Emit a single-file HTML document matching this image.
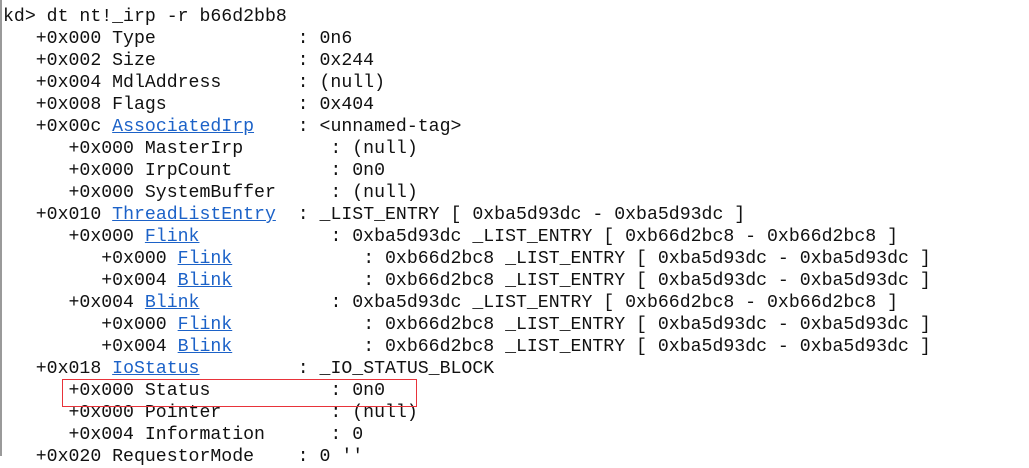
<!DOCTYPE html>
<html><head><meta charset="utf-8"><style>
html,body{margin:0;padding:0;background:#fff;width:1029px;height:456px;overflow:hidden}
.bar{position:absolute;left:0;top:0;width:2px;height:456px;background:#9a9a9a}
pre{position:absolute;left:3px;top:6px;margin:0;font-family:"Liberation Mono",monospace;font-size:18.2px;line-height:22px;color:#111}
a{color:#1c62c8;text-decoration:underline}
.box{position:absolute;left:62px;top:379px;width:353px;height:26px;border:1px solid #e8333a}
</style></head><body>
<div class="bar"></div>
<pre>kd&gt; dt nt!_irp -r b66d2bb8
   +0x000 Type             : 0n6
   +0x002 Size             : 0x244
   +0x004 MdlAddress       : (null)
   +0x008 Flags            : 0x404
   +0x00c <a>AssociatedIrp</a>    : &lt;unnamed-tag&gt;
      +0x000 MasterIrp        : (null)
      +0x000 IrpCount         : 0n0
      +0x000 SystemBuffer     : (null)
   +0x010 <a>ThreadListEntry</a>  : _LIST_ENTRY [ 0xba5d93dc - 0xba5d93dc ]
      +0x000 <a>Flink</a>            : 0xba5d93dc _LIST_ENTRY [ 0xb66d2bc8 - 0xb66d2bc8 ]
         +0x000 <a>Flink</a>            : 0xb66d2bc8 _LIST_ENTRY [ 0xba5d93dc - 0xba5d93dc ]
         +0x004 <a>Blink</a>            : 0xb66d2bc8 _LIST_ENTRY [ 0xba5d93dc - 0xba5d93dc ]
      +0x004 <a>Blink</a>            : 0xba5d93dc _LIST_ENTRY [ 0xb66d2bc8 - 0xb66d2bc8 ]
         +0x000 <a>Flink</a>            : 0xb66d2bc8 _LIST_ENTRY [ 0xba5d93dc - 0xba5d93dc ]
         +0x004 <a>Blink</a>            : 0xb66d2bc8 _LIST_ENTRY [ 0xba5d93dc - 0xba5d93dc ]
   +0x018 <a>IoStatus</a>         : _IO_STATUS_BLOCK
      +0x000 Status           : 0n0
      +0x000 Pointer          : (null)
      +0x004 Information      : 0
   +0x020 RequestorMode    : 0 ''</pre>
<div class="box"></div>
</body></html>
